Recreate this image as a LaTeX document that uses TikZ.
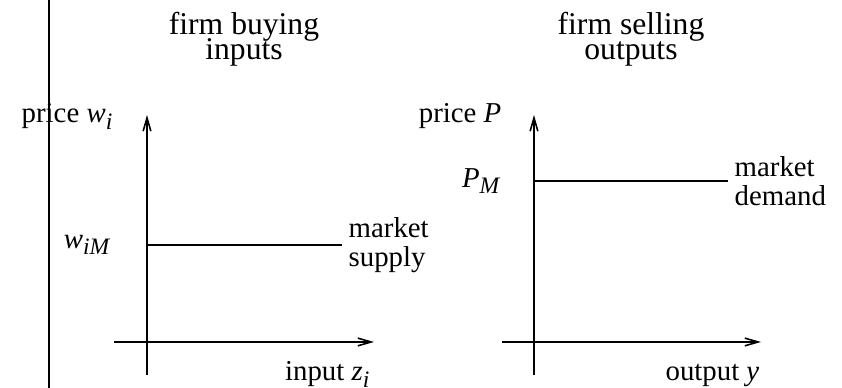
\documentclass[tikz,border=0pt]{standalone}
\usepackage{fontspec}
\setmainfont{Liberation Serif}
\usetikzlibrary{arrows.meta, positioning}
\newcommand{\sbs}[1]{\raisebox{-0.5ex}{\fontsize{6.7}{6.7}\selectfont\itshape #1}}
\newcommand{\tightlines}{\lineskiplimit=-20pt\relax}

\begin{document}
\begin{tikzpicture}[
    >={Straight Barb[length=3.8pt, width=2.2pt]},
    axis/.style={->, line width=0.45pt},
    level/.style={line width=0.45pt},
    title/.style={align=center, font=\fontsize{9}{7}\selectfont\tightlines},
    lab/.style={inner sep=0pt, font=\fontsize{8.2}{8.2}\selectfont\tightlines},
    curvelab/.style={lab, align=left}
]
\useasboundingbox (0,0) rectangle (8.42,3.88);

% ---- divider ----
\coordinate (divtop) at (0.49,3.88);
\coordinate (divbot) at (0.49,0);
\draw[level] (divtop) -- (divbot);

% ---- left panel: inputs ----
\coordinate (zbot) at (1.47,0.13);
\coordinate (ztop) at (1.47,2.73);
\coordinate (zleft) at (1.14,0.46);
\coordinate (zright) at (3.74,0.46);
\coordinate (wstart) at (1.47,1.43);
\coordinate (wend) at (3.42,1.43);
\draw[axis] (zbot) -- (ztop);
\draw[axis] (zleft) -- (zright);
\draw[level] (wstart) -- (wend);
\node[title] (buytitle) at (2.44,3.49) {firm buying\\inputs};
\node[lab, anchor=base east] (wprice) at (1.13,2.65) {price \textit{w}\sbs{i}};
\node[lab, left=0.37 of wstart] (wiM) {\textit{w}\sbs{iM}};
\node[curvelab, right=0.06 of wend] (supply) {market\\supply};
\node[lab, anchor=base east] (zlab) at (3.70,0.07) {input \textit{z}\sbs{i}};

% ---- right panel: outputs ----
\coordinate (ybot) at (5.34,0.13);
\coordinate (ytop) at (5.34,2.73);
\coordinate (yleft) at (5.02,0.46);
\coordinate (yright) at (7.61,0.46);
\coordinate (pstart) at (5.34,2.07);
\coordinate (pend) at (7.28,2.07);
\draw[axis] (ybot) -- (ytop);
\draw[axis] (yleft) -- (yright);
\draw[level] (pstart) -- (pend);
\node[title] (selltitle) at (6.31,3.49) {firm selling\\outputs};
\node[lab, anchor=base east] (pprice) at (5.02,2.65) {price \textit{P}};
\node[lab, left=0.34 of pstart] (pM) {\textit{P}\sbs{M}};
\node[curvelab, right=0.06 of pend] (demand) {market\\demand};
\node[lab, anchor=base east] (ylab) at (7.60,0.07) {output \textit{y}};

\end{tikzpicture}
\end{document}
